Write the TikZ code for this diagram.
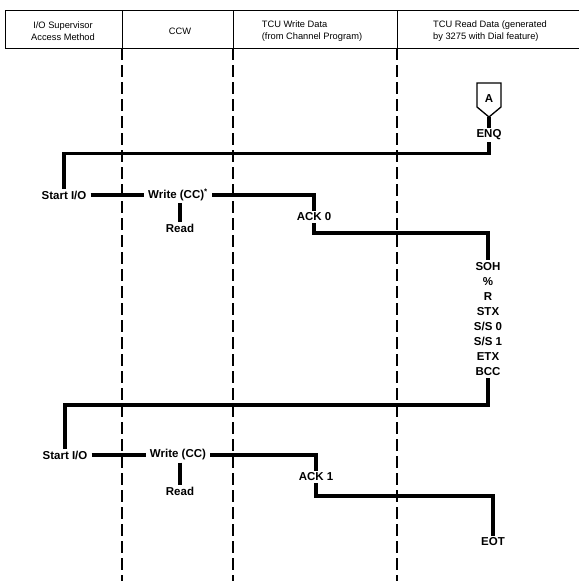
\documentclass[tikz,border=0pt]{standalone}
\usepackage{fontspec}
\setmainfont{Liberation Sans}
\tikzset{
  lbl/.style={font=\fontsize{11.5}{15.1}\selectfont\bfseries,inner xsep=4pt,inner ysep=2pt,align=center},
  head/.style={font=\fontsize{9.3}{12}\selectfont,inner sep=0pt,align=left},
  flow/.style={line width=3.6pt,line join=miter},
  lane/.style={line width=1.3pt,dash pattern=on 12pt off 5pt},
  frame/.style={line width=0.9pt}
}
\begin{document}
\begin{tikzpicture}[x=1pt,y=-1pt]
\useasboundingbox (0,0) rectangle (579,581);
% header
\draw[frame] (579,10) -- (5,10) -- (5,48) -- (579,48);
\foreach \xs in {122,233,397} \draw[frame] (\xs,10) -- (\xs,48);
\node[head,align=center] (hsup) at (63,31) {I/O Supervisor\\Access Method};
\node[head] (hccw) at (180,31) {CCW};
\node[head] (hwr) at (312,31) {TCU Write Data\\(from Channel Program)};
\node[head] (hrd) at (490,31) {TCU Read Data (generated\\by 3275 with Dial feature)};
% lanes
\foreach \xs in {122,233,397} \draw[lane] (\xs,48) -- (\xs,581);
% connector A
\draw[line width=1.3pt] (477,83) -- (501,83) -- (501,107) -- (489,117) -- (477,107) -- cycle;
\node[lbl] (ca) at (489,99) {A};
\coordinate (caout) at (489,117);
% first exchange
\node[lbl] (enq) at (489,135) {ENQ};
\node[lbl] (start1) at (64,195) {Start I/O};
\node[lbl] (write1) at (178,195) {Write (CC)\textsuperscript{*}};
\node[lbl] (read1) at (180,228) {Read};
\node[lbl] (ack0) at (314,217) {ACK 0};
\node[lbl] (data) at (488,319) {SOH\\\%\\R\\STX\\S/S 0\\S/S 1\\ETX\\BCC};
\draw[flow] (caout) -- (enq.north);
\draw[flow] (enq.south) -- ++(0,11) -| (start1.north);
\draw[flow] (start1.east) -- (write1.west);
\draw[flow] (read1.north |- write1.south) -- (read1.north);
\draw[flow] (write1.east) -| (ack0.north);
\draw[flow] (ack0.south) -- ++(0,10) -| (data.north);
% second exchange
\node[lbl] (start2) at (65,455) {Start I/O};
\node[lbl] (write2) at (178,455) {Write (CC)};
\node[lbl] (read2) at (180,491) {Read};
\node[lbl] (ack1) at (316,477) {ACK 1};
\node[lbl] (eot) at (493,542) {EOT};
\draw[flow] (data.south) -- (488,405) -| (start2.north);
\draw[flow] (start2.east) -- (write2.west);
\draw[flow] (read2.north |- write2.south) -- (read2.north);
\draw[flow] (write2.east) -| (ack1.north);
\draw[flow] (ack1.south) -- ++(0,13) -| (eot.north);
\end{tikzpicture}
\end{document}
